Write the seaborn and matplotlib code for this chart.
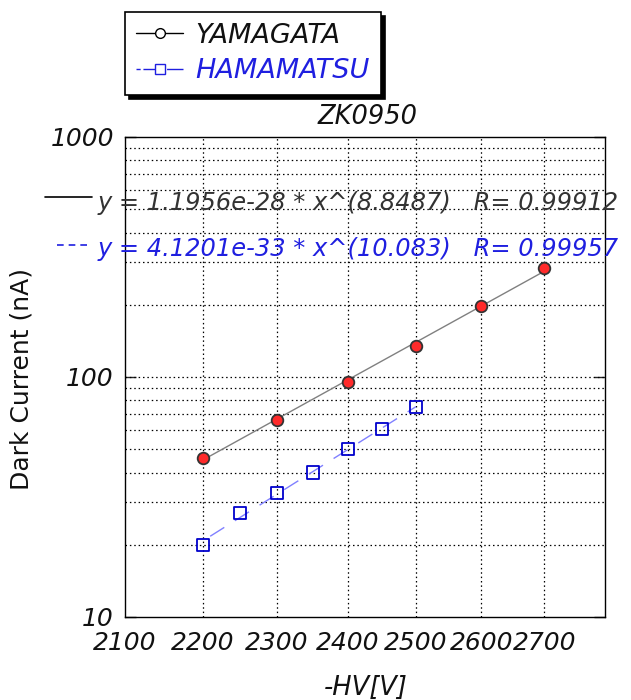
import numpy as np
import pandas as pd
import matplotlib
matplotlib.use("Agg")
import matplotlib.pyplot as plt
import seaborn as sns
from matplotlib.lines import Line2D
from matplotlib.ticker import FixedLocator, NullFormatter, LogLocator

# ---- data ----
yam_hv = [2200, 2300, 2400, 2500, 2600, 2700]
yam_current = [46.0, 66.0, 95.0, 135.0, 198.0, 285.0]
ham_hv = [2200, 2250, 2300, 2350, 2400, 2450, 2500]
ham_current = [20.0, 27.0, 33.0, 40.0, 50.0, 61.0, 75.0]

# fit coefficients shown on chart: y = a * x^b
yam_fit = (1.1956e-28, 8.8487, 0.99912)
ham_fit = (4.1201e-33, 10.083, 0.99957)
yam_fit_range = [2200, 2700]
ham_fit_range = [2210, 2500]

x_ticks = [2100, 2200, 2300, 2400, 2500, 2600, 2700]
x_grid = [2200, 2300, 2400, 2500, 2600, 2700]
y_ticks = [10, 100, 1000]

title = "ZK0950"
xlabel = "-HV[V]"
ylabel = "Dark Current (nA)"
series_names = ["YAMAGATA", "HAMAMATSU"]

# ---- style ----
sns.set_style("white")
plt.rcParams["font.family"] = ["DejaVu Sans"]

BLUE = "#1f1fe0"
fig = plt.figure(figsize=(6.31, 7.0), dpi=100)
ax = fig.add_axes([125/631, 1-617/700, 480/631, 480/700])

df = pd.concat([
    pd.DataFrame({"hv": yam_hv, "current": yam_current, "det": series_names[0]}),
    pd.DataFrame({"hv": ham_hv, "current": ham_current, "det": series_names[1]}),
])

# fit lines
yf = np.array(yam_fit_range, dtype=float)
hf = np.array(ham_fit_range, dtype=float)
fit_df_y = pd.DataFrame({"hv": yf, "current": yam_fit[0] * yf ** yam_fit[1]})
fit_df_h = pd.DataFrame({"hv": hf, "current": ham_fit[0] * hf ** ham_fit[1]})
sns.lineplot(data=fit_df_y, x="hv", y="current", ax=ax, color="#808080", lw=1.0, zorder=3)
sns.lineplot(data=fit_df_h, x="hv", y="current", ax=ax, color="#8080ff", lw=1.0,
             dashes=False, zorder=3)
ax.lines[-1].set_dashes([12, 9])

# markers
d_y = df[df.det == series_names[0]]
d_h = df[df.det == series_names[1]]
sns.scatterplot(data=d_y, x="hv", y="current", ax=ax, marker="o", s=70,
                color="#ff2a2a", edgecolor="#333333", linewidth=1.3, zorder=5)
sns.scatterplot(data=d_h, x="hv", y="current", ax=ax, marker="s", s=75,
                facecolor="none", edgecolor="#0000cc", linewidth=1.3, zorder=5)

ax.set_xscale("log")
ax.set_yscale("log")
ax.set_xlim(2100, 2800)
ax.set_ylim(10, 1000)

ax.xaxis.set_major_locator(FixedLocator(x_ticks))
ax.set_xticklabels([str(t) for t in x_ticks])
ax.xaxis.set_minor_locator(FixedLocator([]))
ax.xaxis.set_minor_formatter(NullFormatter())
ax.yaxis.set_major_locator(FixedLocator(y_ticks))
ax.set_yticklabels([str(t) for t in y_ticks])
ax.yaxis.set_minor_locator(LogLocator(base=10, subs=np.arange(2, 10)))
ax.yaxis.set_minor_formatter(NullFormatter())

ax.tick_params(axis="x", which="both", length=0, pad=10, labelsize=18)
ax.tick_params(axis="y", which="major", direction="in", length=8, width=1,
               left=True, right=True, labelsize=18, pad=8)
ax.tick_params(axis="y", which="minor", length=0)
for lab in ax.get_xticklabels() + ax.get_yticklabels():
    lab.set_fontstyle("italic")
    lab.set_color("#111111")

dot = (0, (1.2, 2.3))
ax.grid(False)
for g in x_grid:
    ax.axvline(g, color="black", lw=0.9, ls=dot, zorder=1)
for v in [20, 30, 40, 50, 60, 70, 80, 90, 100, 200, 300, 400, 500, 600, 700, 800, 900]:
    ax.axhline(v, color="black", lw=0.9, ls=dot, zorder=1)

for s in ax.spines.values():
    s.set_visible(True)
    s.set_color("black")
    s.set_linewidth(1.0)

ax.set_xlabel("")
ax.set_ylabel("")
fig.text(366/631, 1-688/700, xlabel, ha="center", va="center", fontsize=18.5,
         style="italic", color="#111111")
fig.text(22/631, 1-379/700, ylabel, ha="center", va="center", fontsize=18,
         rotation=90, color="#111111")
fig.text(368/631, 1-117/700, title, ha="center", va="center", fontsize=18.5,
         style="italic", color="#111111")

# fit equation annotations
def eq(a, b, r):
    mant, ex = f"{a:.4e}".split("e")
    return f"y = {mant}e{int(ex)} * x^({b:g})   R= {r:g}"

fig.text(98/631, 1-203/700, eq(*yam_fit), ha="left", va="center", fontsize=17.4,
         style="italic", color="#333333")
fig.text(98/631, 1-249/700, eq(*ham_fit), ha="left", va="center", fontsize=17.4,
         style="italic", color=BLUE)
fig.add_artist(Line2D([45/631, 92/631], [1-197/700, 1-197/700], color="black", lw=1.2))
fig.add_artist(Line2D([57/631, 88/631], [1-245/700, 1-245/700], color=BLUE, lw=1.2,
                      dashes=[4, 3]))

# legend
handles = [
    Line2D([], [], color="black", lw=1, marker="o", markersize=7,
           markerfacecolor="white", markeredgecolor="black"),
    Line2D([], [], color=BLUE, lw=1, marker="s", markersize=7,
           markerfacecolor="white", markeredgecolor=BLUE, dashes=[3, 2, 12, 0]),
]
leg = fig.legend(handles, series_names, loc="upper left",
                 bbox_to_anchor=(125/631, 1-12/700), frameon=True, fancybox=False,
                 shadow={"color": "black", "alpha": 1, "ox": 3, "oy": -3},
                 framealpha=1, edgecolor="black", fontsize=19.5, handlelength=1.75,
                 borderpad=0.4, labelspacing=0.35, handletextpad=0.45, borderaxespad=0)
leg.get_frame().set_linewidth(1.2)
for t, c in zip(leg.get_texts(), ["#111111", BLUE]):
    t.set_fontstyle("italic")
    t.set_color(c)

fig.savefig("out.png", dpi=100)
